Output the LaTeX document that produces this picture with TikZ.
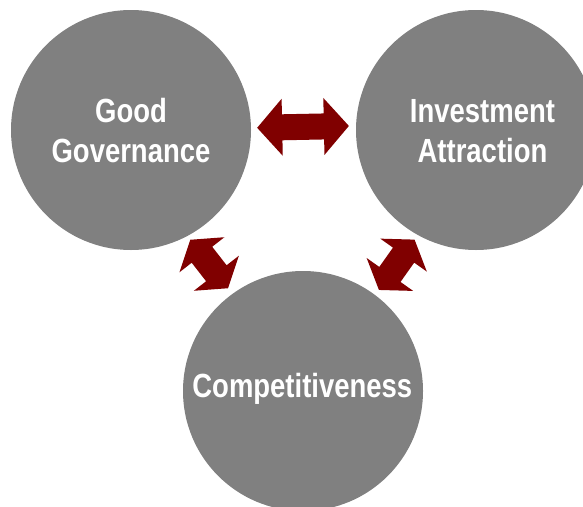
\documentclass[tikz,border=0pt]{standalone}
\usepackage{fontspec}
\setmainfont{Liberation Sans}[FakeStretch=0.82]
\usetikzlibrary{calc}
\definecolor{circgray}{RGB}{128,128,128}
\definecolor{arrowred}{RGB}{128,0,0}
% #1 start point, #2 end point, #3 head length
\newcommand\mydblarrow[3]{%
  \coordinate (t1) at (#1);
  \coordinate (t2) at (#2);
  \coordinate (h1) at ($(t1)!#3!(t2)$);
  \coordinate (h2) at ($(t2)!#3!(t1)$);
  \fill[dblfill] (t1) -- ($(h1)!28.5pt!90:(t2)$) -- ($(h1)!13pt!90:(t2)$)
    -- ($(h2)!13pt!-90:(t1)$) -- ($(h2)!28.5pt!-90:(t1)$) -- (t2)
    -- ($(h2)!28.5pt!90:(t1)$) -- ($(h2)!13pt!90:(t1)$)
    -- ($(h1)!13pt!-90:(t2)$) -- ($(h1)!28.5pt!-90:(t2)$) -- cycle;
}
\begin{document}
\begin{tikzpicture}[x=1pt,y=-1pt,
  circ/.style={circle, fill=circgray, minimum size=240pt, inner sep=0pt},
  lbl/.style={text=white, font=\fontsize{33.5}{40}\selectfont\bfseries, align=center, inner sep=0pt},
  dblfill/.style={fill=arrowred},
]
\useasboundingbox (0,0) rectangle (583,506);
\node[circ] (gg) at (131,130) {};
\node[circ] (ia) at (476,130) {};
\node[circ] (co) at (303,391) {};
\node[lbl] (ggt) at (131,131) {Good\\Governance};
\node[lbl] (iat) at (482.5,131) {Investment\\Attraction};
\node[lbl, anchor=base] (cot) at (302.3,397) {Competitiveness};
\mydblarrow{$(gg.1.1)!6pt!(ia.178.9)$}{$(ia.178.9)!7pt!(gg.1.1)$}{25pt}
\mydblarrow{$(gg.-62.6)!4.6pt!(co.126)$}{$(co.126)!7pt!(gg.-62.6)$}{19pt}
\mydblarrow{$(ia.-119.4)!5.5pt!(co.53.9)$}{$(co.53.9)!6.2pt!(ia.-119.4)$}{19pt}
\end{tikzpicture}
\end{document}
